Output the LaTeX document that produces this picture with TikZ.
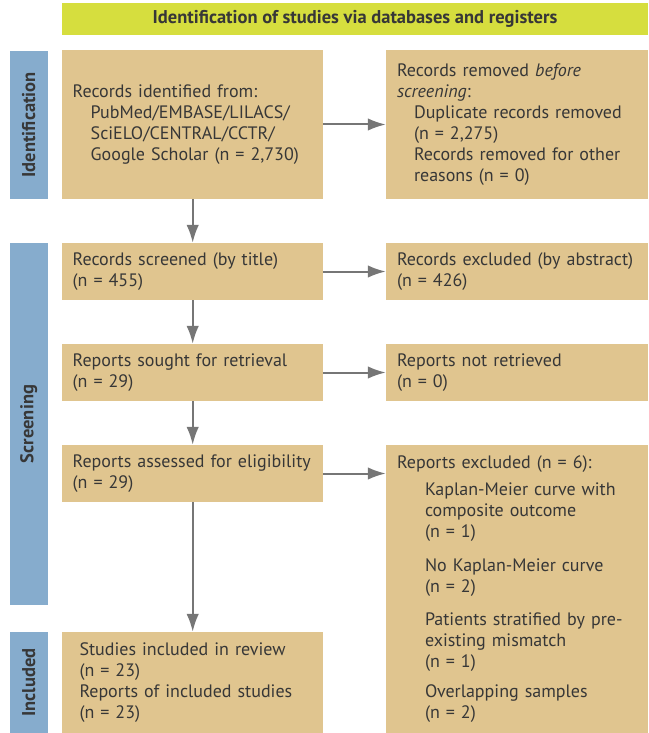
\documentclass[tikz,border=0pt]{standalone}
\usepackage{fontspec}
\setmainfont{PT Sans}
\usetikzlibrary{arrows.meta}

\definecolor{boxtan}{RGB}{224,197,143}
\definecolor{phaseblue}{RGB}{134,172,205}
\definecolor{titlegreen}{RGB}{214,222,62}
\definecolor{txtgray}{RGB}{55,55,55}
\definecolor{arrowgray}{RGB}{118,118,118}

\newcommand{\indpad}{\hspace*{18pt}}
\newcommand{\subpad}{\hspace*{28pt}}

\tikzset{
    box/.style={fill=boxtan, text=txtgray, align=left, inner ysep=0pt,
        font=\fontsize{18}{21}\selectfont},
    leftbox/.style={box, inner xsep=10.5pt, text width=240pt},
    rightbox/.style={box, inner xsep=11pt, text width=240pt},
    phase/.style={fill=phaseblue, text=txtgray, rotate=90, minimum height=37.7pt,
        inner sep=0pt, font=\bfseries\fontsize{18.5}{21}\selectfont},
    flow/.style={draw=arrowgray, line width=2pt, -{Latex[length=18pt,width=12.5pt]}}
}

\begin{document}
\begin{tikzpicture}[x=1pt, y=-1pt]
    \useasboundingbox (0,0) rectangle (648,733);

    % header and phase bars
    \node[fill=titlegreen, text=txtgray, minimum width=586pt, minimum height=32.3pt,
        font=\bfseries\fontsize{18.5}{21}\selectfont] (title) at (355,19.2)
        {Identification of studies via databases and registers};
    \node[phase, minimum width=148.3pt] (phaseid) at (28.8,124.8) {Identification};
    \node[phase, minimum width=362pt] (phasescr) at (28.8,424) {Screening};
    \node[phase, minimum width=101pt] (phaseinc) at (28.8,682.5) {Included};

    % left column
    \node[leftbox, minimum height=148.5pt] (ident) at (192.7,124.5)
        {Records identified from:\\
         \indpad PubMed/EMBASE/LILACS/\\
         \indpad SciELO/CENTRAL/CCTR/\\
         \indpad Google Scholar (n = 2,730)};
    \node[leftbox, minimum height=57pt] (screened) at (192.7,271.5)
        {Records screened (by title)\\(n = 455)};
    \node[leftbox, minimum height=57pt] (sought) at (192.7,372.5)
        {Reports sought for retrieval\\(n = 29)};
    \node[leftbox, minimum height=57pt] (assessed) at (192.7,473.5)
        {Reports assessed for eligibility\\(n = 29)};
    \node[box, inner xsep=17.3pt, text width=226.4pt, minimum height=101pt] (included) at (192.7,682.5)
        {Studies included in review\\(n = 23)\\Reports of included studies\\(n = 23)};

    % right column
    \node[rightbox, minimum height=148.5pt] (removed) at (517,124.5)
        {Records removed \textit{before}\\
         \textit{screening}:\\
         \hspace*{17pt}Duplicate records removed\\
         \hspace*{17pt}(n = 2,275)\\
         \hspace*{17pt}Records removed for other\\
         \hspace*{17pt}reasons (n = 0)};
    \node[rightbox, minimum height=57pt] (exclabs) at (517,271.5)
        {Records excluded (by abstract)\\(n = 426)};
    \node[rightbox, minimum height=57pt] (notret) at (517,372.5)
        {Reports not retrieved\\(n = 0)};
    \node[rightbox, minimum height=288pt] (repexcl) at (517,589)
        {Reports excluded (n = 6):\\[6pt]
         \subpad Kaplan-Meier curve with\\
         \subpad composite outcome\\
         \subpad (n = 1)\\[13pt]
         \subpad No Kaplan-Meier curve\\
         \subpad (n = 2)\\[12pt]
         \subpad Patients stratified by pre-\\
         \subpad existing mismatch\\
         \subpad (n = 1)\\[9pt]
         \subpad Overlapping samples\\
         \subpad (n = 2)};

    % arrows
    \draw[flow] (ident) -- (removed);
    \draw[flow] (ident) -- (screened);
    \draw[flow] (screened) -- (exclabs);
    \draw[flow] (screened) -- (sought);
    \draw[flow] (sought) -- (notret);
    \draw[flow] (sought) -- (assessed);
    \draw[flow] (assessed.east) -- (assessed.east -| repexcl.west);
    \draw[flow] (assessed) -- (included);

\end{tikzpicture}
\end{document}
